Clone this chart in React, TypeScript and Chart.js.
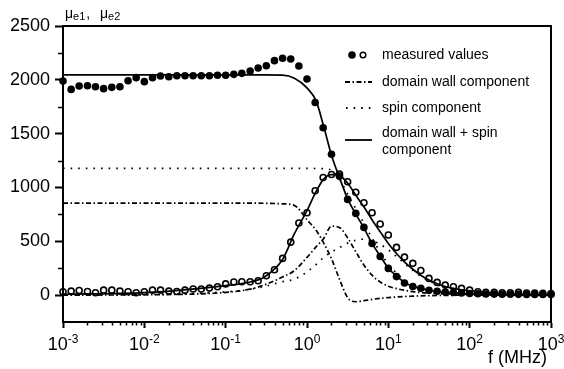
import React, { useEffect, useRef } from 'react';
import { Chart, registerables } from 'chart.js';

Chart.register(...registerables);

// measurement frequencies (MHz), 10 per decade
const FREQ = [
  0.001, 0.00126, 0.00158, 0.002, 0.00251, 0.00316, 0.00398, 0.00501, 0.00631, 0.00794,
  0.01, 0.0126, 0.0158, 0.02, 0.0251, 0.0316, 0.0398, 0.0501, 0.0631, 0.0794,
  0.1, 0.126, 0.158, 0.2, 0.251, 0.316, 0.398, 0.501, 0.631, 0.794,
  1, 1.26, 1.58, 2, 2.51, 3.16, 3.98, 5.01, 6.31, 7.94,
  10, 12.6, 15.8, 20, 25.1, 31.6, 39.8, 50.1, 63.1, 79.4,
  100, 126, 158, 200, 251, 316, 398, 501, 631, 794, 1000,
];
// measured real part (filled circles)
const MU_E1 = [
  1989, 1911, 1942, 1945, 1936, 1918, 1930, 1936, 1992, 2020,
  1983, 2020, 2035, 2029, 2038, 2038, 2038, 2038, 2038, 2042,
  2042, 2051, 2060, 2082, 2110, 2131, 2178, 2200, 2193, 2128,
  2007, 1789, 1555, 1308, 1105, 889, 759, 629, 480, 359,
  248, 172, 112, 80, 64, 45, 35, 28, 24, 20,
  15, 12, 10, 9, 8, 8, 7, 6, 6, 5, 5,
];
// measured imaginary part (open circles)
const MU_E2 = [
  31, 37, 43, 34, 22, 46, 46, 37, 31, 22,
  31, 46, 46, 37, 34, 46, 56, 56, 65, 77,
  104, 121, 124, 124, 133, 180, 236, 341, 492, 670,
  765, 969, 1092, 1120, 1124, 1053, 955, 858, 765, 660,
  558, 443, 353, 295, 229, 155, 118, 93, 77, 62,
  46, 31, 25, 25, 22, 22, 25, 20, 18, 16, 15,
];
// model curves
const FIT_F = [0.001, 0.01, 0.1, 0.2, 0.3, 0.5, 0.7, 1, 1.3, 1.6, 2, 2.5, 3.2, 4, 5, 6.3, 8, 10, 13, 16, 20, 25, 32, 40, 50, 63, 80, 100, 200, 500, 1000];
const TOTAL_REAL = [2045, 2045, 2045, 2045, 2045, 2043, 2015, 1925, 1800, 1570, 1300, 1095, 885, 750, 625, 480, 360, 250, 170, 115, 82, 62, 45, 33, 25, 19, 14, 11, 5, 2, 1];
const TOTAL_IMAG = [8, 22, 88, 122, 168, 330, 570, 785, 965, 1078, 1120, 1110, 1035, 925, 820, 700, 585, 480, 375, 305, 240, 185, 138, 105, 80, 62, 48, 38, 17, 6, 2];
const DW_REAL = [855, 855, 855, 855, 853, 848, 833, 700, 600, 485, 338, 150, -30, -62, -52, -40, -30, -23, -17, -13, -10, -7, -5, -4, -3, -2, -1, -1, 0, 0, 0];
const DW_IMAG = [0, 3, 25, 55, 95, 168, 228, 350, 450, 525, 640, 628, 525, 400, 280, 185, 120, 82, 58, 44, 32, 24, 18, 14, 10, 8, 6, 5, 2, 1, 0];
const SPIN_REAL = [1177, 1177, 1177, 1177, 1177, 1177, 1177, 1177, 1176, 1174, 1160, 1080, 930, 800, 670, 530, 395, 285, 195, 135, 95, 70, 50, 36, 27, 20, 15, 12, 4, 1, 0];
const SPIN_IMAG = [0, 4, 30, 55, 80, 125, 148, 215, 285, 350, 400, 440, 485, 510, 520, 505, 470, 420, 350, 290, 230, 175, 130, 95, 70, 50, 36, 27, 8, 2, 0];

const X_TICKS = [0.001, 0.01, 0.1, 1, 10, 100, 1000];
const X_TICK_EXP = ['-3', '-2', '-1', '0', '1', '2', '3'];
const LEGEND_LABELS = ['measured values', 'domain wall component', 'spin component', 'domain wall + spin', 'component'];
const X_TITLE = 'f (MHz)';

const FONT = "'Liberation Sans', Arial, Helvetica, sans-serif";
const DASH_DOT = [5, 2.5, 1.5, 2.5];
const DOTTED = [1.6, 6];

function pts(xs: number[], ys: number[]) {
  return xs.map((x, i) => ({ x, y: ys[i] }));
}

function lineSet(label: string, ys: number[], dash: number[], width: number, order: number) {
  return {
    label,
    data: pts(FIT_F, ys),
    showLine: true,
    pointRadius: 0,
    borderColor: '#000',
    borderWidth: width,
    borderDash: dash,
    cubicInterpolationMode: 'monotone',
    fill: false,
    order,
  };
}

const decor = {
  id: 'decor',
  afterDraw(chart: any) {
    const { ctx, chartArea: a } = chart;
    const xs = chart.scales.x;
    const ys = chart.scales.y;
    ctx.save();
    ctx.strokeStyle = '#000';
    ctx.fillStyle = '#000';
    ctx.setLineDash([]);
    // frame top & right
    ctx.lineWidth = 2;
    ctx.beginPath();
    ctx.moveTo(a.left - 1, a.top);
    ctx.lineTo(a.right, a.top);
    ctx.lineTo(a.right, a.bottom + 1);
    ctx.stroke();
    // y minor ticks
    ctx.lineWidth = 1.5;
    for (const t of ys.ticks) {
      if (t.value % 500 !== 0 && t.value > ys.min) {
        const py = Math.round(ys.getPixelForValue(t.value)) + 0.5;
        ctx.beginPath();
        ctx.moveTo(a.left - 5, py);
        ctx.lineTo(a.left, py);
        ctx.stroke();
      }
    }
    // x minor ticks
    for (let i = 0; i < X_TICKS.length - 1; i++) {
      for (let m = 2; m <= 9; m++) {
        const px = Math.round(xs.getPixelForValue(X_TICKS[i] * m)) + 0.5;
        ctx.beginPath();
        ctx.moveTo(px, a.bottom);
        ctx.lineTo(px, a.bottom + 3.5);
        ctx.stroke();
      }
    }
    // x tick labels with superscript
    ctx.textAlign = 'left';
    ctx.textBaseline = 'alphabetic';
    X_TICKS.forEach((v, i) => {
      const px = xs.getPixelForValue(v);
      ctx.font = `18px ${FONT}`;
      const w1 = ctx.measureText('10').width;
      ctx.font = `12px ${FONT}`;
      const w2 = ctx.measureText(X_TICK_EXP[i]).width;
      const start = px - (w1 + w2) / 2;
      ctx.font = `18px ${FONT}`;
      ctx.fillText('10', start, a.bottom + 28);
      ctx.font = `12px ${FONT}`;
      ctx.fillText(X_TICK_EXP[i], start + w1, a.bottom + 20.5);
    });
    // x title
    ctx.font = `18px ${FONT}`;
    ctx.textAlign = 'right';
    ctx.fillText(X_TITLE, a.right - 4, a.bottom + 41);
    // y title  μe1, μe2
    ctx.textAlign = 'left';
    let x0 = a.left + 2;
    ctx.font = `14px ${FONT}`;
    ctx.fillText('μ', x0, a.top - 8);
    x0 += ctx.measureText('μ').width;
    ctx.font = `11px ${FONT}`;
    ctx.fillText('e1', x0, a.top - 6);
    x0 += ctx.measureText('e1').width + 1;
    ctx.font = `14px ${FONT}`;
    ctx.fillText(',', x0, a.top - 8);
    x0 = a.left + 37;
    ctx.fillText('μ', x0, a.top - 8);
    x0 += ctx.measureText('μ').width;
    ctx.font = `11px ${FONT}`;
    ctx.fillText('e2', x0, a.top - 6);

    // legend
    const lx0 = 345, lx1 = 372, tx = 382;
    ctx.font = `14px ${FONT}`;
    ctx.textBaseline = 'middle';
    // measured values
    ctx.beginPath();
    ctx.arc(352, 55, 3.8, 0, Math.PI * 2);
    ctx.fill();
    ctx.lineWidth = 1.5;
    ctx.beginPath();
    ctx.arc(363, 55, 2.8, 0, Math.PI * 2);
    ctx.stroke();
    ctx.fillText(LEGEND_LABELS[0], tx, 55);
    // domain wall
    ctx.lineWidth = 1.8;
    ctx.setLineDash(DASH_DOT);
    ctx.beginPath();
    ctx.moveTo(lx0, 82);
    ctx.lineTo(lx1, 82);
    ctx.stroke();
    ctx.fillText(LEGEND_LABELS[1], tx, 82);
    // spin
    ctx.setLineDash(DOTTED);
    ctx.beginPath();
    ctx.moveTo(lx0 + 1, 108);
    ctx.lineTo(lx1, 108);
    ctx.stroke();
    ctx.fillText(LEGEND_LABELS[2], tx, 108);
    // total
    ctx.setLineDash([]);
    ctx.beginPath();
    ctx.moveTo(lx0, 140);
    ctx.lineTo(lx1, 140);
    ctx.stroke();
    ctx.fillText(LEGEND_LABELS[3], tx, 133);
    ctx.fillText(LEGEND_LABELS[4], tx, 150);
    ctx.restore();
  },
};

export default function App() {
  const ref = useRef<HTMLCanvasElement | null>(null);
  useEffect(() => {
    if (!ref.current) return;
    Chart.defaults.font.family = FONT;
    Chart.defaults.color = '#000';
    const chart = new Chart(ref.current, {
      type: 'scatter',
      data: {
        datasets: [
          lineSet('domain wall + spin (real)', TOTAL_REAL, [], 1.7, 0),
          lineSet('domain wall + spin (imag)', TOTAL_IMAG, [], 1.7, 1),
          lineSet('domain wall (real)', DW_REAL, DASH_DOT, 1.7, 2),
          lineSet('domain wall (imag)', DW_IMAG, DASH_DOT, 1.7, 3),
          lineSet('spin (real)', SPIN_REAL, DOTTED, 1.7, 4),
          lineSet('spin (imag)', SPIN_IMAG, DOTTED, 1.7, 5),
          {
            label: 'μe2',
            data: pts(FREQ, MU_E2),
            showLine: false,
            pointRadius: 3,
            pointBackgroundColor: 'rgba(0,0,0,0)',
            pointBorderColor: '#000',
            pointBorderWidth: 1.6,
            clip: false,
            order: 6,
          },
          {
            label: 'μe1',
            data: pts(FREQ, MU_E1),
            showLine: false,
            pointRadius: 3.8,
            pointBackgroundColor: '#000',
            pointBorderColor: '#000',
            pointBorderWidth: 0,
            clip: false,
            order: 7,
          },
        ] as any,
      },
      options: {
        responsive: false,
        devicePixelRatio: 1,
        animation: false,
        events: [],
        layout: { padding: { top: 26, right: 13, bottom: 0, left: 0 } },
        plugins: { legend: { display: false }, tooltip: { enabled: false }, title: { display: false } },
        scales: {
          x: {
            type: 'logarithmic',
            min: 0.001,
            max: 1000,
            afterBuildTicks: (s: any) => {
              s.ticks = X_TICKS.map((v) => ({ value: v, major: true }));
            },
            afterFit: (s: any) => {
              s.height = 47;
            },
            ticks: { display: false },
            grid: { display: true, drawOnChartArea: false, drawTicks: true, tickLength: 6, tickWidth: 2, tickColor: '#000' },
            border: { display: true, color: '#000', width: 2 },
          },
          y: {
            min: -250,
            max: 2500,
            afterFit: (s: any) => {
              s.width = 63;
            },
            ticks: {
              stepSize: 250,
              autoSkip: false,
              padding: 5,
              color: '#000',
              font: { size: 18, family: FONT },
              callback: (v: any) => (Number(v) % 500 === 0 && Number(v) >= 0 ? String(v) : ''),
            },
            grid: {
              display: true,
              drawOnChartArea: false,
              drawTicks: true,
              tickLength: 8,
              tickWidth: 2,
              tickColor: (c: any) => (c.tick && c.tick.value % 500 === 0 ? '#000' : 'rgba(0,0,0,0)'),
            },
            border: { display: true, color: '#000', width: 2 },
          },
        },
      } as any,
      plugins: [decor],
    });
    return () => chart.destroy();
  }, []);
  return (
    <div style={{ position: 'fixed', left: 0, top: 0, width: 564, height: 369, background: '#fff' }}>
      <canvas ref={ref} width={564} height={369} style={{ width: 564, height: 369, display: 'block' }} />
    </div>
  );
}
